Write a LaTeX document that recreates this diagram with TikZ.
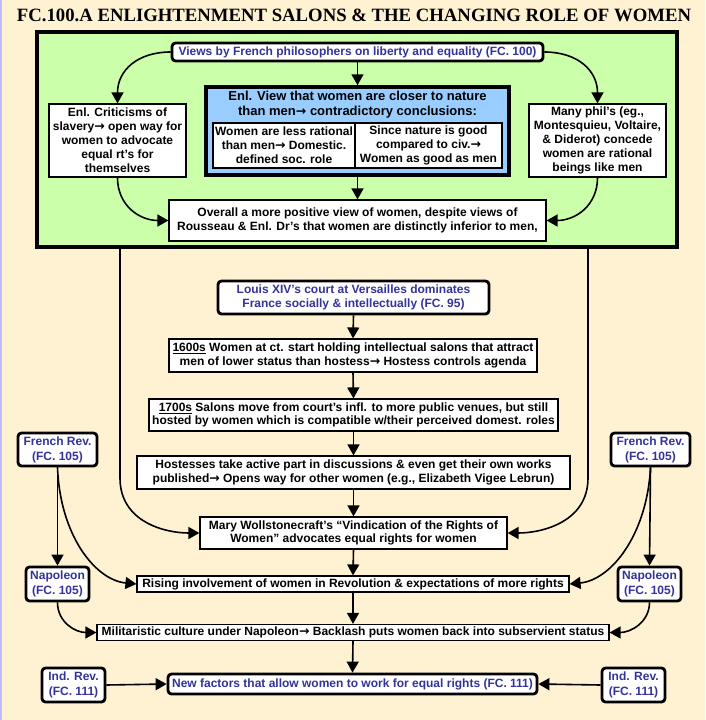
\documentclass[tikz,border=0pt]{standalone}
\usepackage{graphicx}
\usepackage{fontspec}
\setmainfont{Liberation Sans}
\newfontfamily\serifbf{Liberation Serif}
\newfontfamily\djv{DejaVu Sans}
\usetikzlibrary{arrows.meta}
\newcommand\rarr{{\djv\bfseries\fontsize{12.5}{9}\selectfont →}}
\definecolor{bgcream}{RGB}{255,242,210}
\definecolor{greenbg}{RGB}{204,255,170}
\definecolor{bluebg}{RGB}{153,204,255}
\definecolor{fcblue}{RGB}{51,51,153}
\definecolor{lav}{RGB}{190,190,255}
\tikzset{
  box/.style={draw, fill=white, line width=1.2pt, inner sep=1pt, align=center,
    font=\fontsize{12}{14}\selectfont\bfseries, text=black},
  rbox/.style={box, rounded corners=3.5pt, line width=2.8pt, text=fcblue},
  conn/.style={line width=1.6pt, -{Triangle[length=11pt,width=12pt]}},
  plain/.style={line width=1.6pt}
}
\begin{document}
\begin{tikzpicture}[x=1pt,y=-1pt]
\useasboundingbox (0,0) rectangle (705,720);
\fill[bgcream] (0,0) rectangle (705,720);
\fill[lav] (0,0) rectangle (1.5,720);

\node[inner sep=0pt] (title) at (354,15)
  {\resizebox{674pt}{12.5pt}{\serifbf\bfseries FC.100.A ENLIGHTENMENT SALONS \& THE CHANGING ROLE OF WOMEN}};

% green area
\node[draw, fill=greenbg, line width=4pt, minimum width=640pt, minimum height=215pt, inner sep=0pt] (green) at (357,139.5) {};

\node[rbox, minimum width=371pt, minimum height=18pt, inner sep=0pt] (views) at (357.5,52)
  {Views by French philosophers on liberty and equality (FC. 100)};

\node[draw, fill=bluebg, line width=3.5pt, minimum width=303pt, minimum height=88pt, inner sep=0pt] (enl) at (357.5,131) {};
\node[inner sep=0pt, align=center, font=\fontsize{13}{15}\selectfont\bfseries] (enltitle) at (357.5,104.5)
  {Enl. View that women are closer to nature\\than men\rarr{} contradictory conclusions:};
\node[box, minimum width=142pt, minimum height=45pt, inner sep=0pt] (less) at (284,145.5)
  {Women are less rational\\than men\rarr{} Domestic.\\defined soc. role};
\node[box, minimum width=147pt, minimum height=45pt, inner sep=0pt] (good) at (428.5,145.5)
  {Since nature is good\\compared to civ.\rarr\\Women as good as men};

\node[box, minimum width=137pt, minimum height=73pt, inner sep=0pt] (crit) at (117.5,140.5)
  {Enl. Criticisms of\\slavery\rarr{} open way for\\women to advocate\\equal rt’s for\\themselves};
\node[box, minimum width=137pt, minimum height=73pt, inner sep=0pt] (many) at (597.5,140.5)
  {Many phil’s (eg.,\\Montesquieu, Voltaire,\\\& Diderot) concede\\women are rational\\beings like men};
\node[box, minimum width=377pt, minimum height=41pt] (overall) at (357.5,220.5)
  {Overall a more positive view of women, despite views of\\Rousseau \& Enl. Dr’s that women are distinctly inferior to men,};

\draw[conn] (views.west) .. controls (138,52) and (117.5,70) .. (crit.north);
\draw[conn] (views.east) .. controls (577,52) and (597.5,70) .. (many.north);
\draw[conn] (views.south) -- (enl.north);
\draw[conn] (enl.south) -- (overall.north);
\draw[conn] (crit.south) .. controls (117.5,206) and (140,220.5) .. (overall.west);
\draw[conn] (many.south) .. controls (597.5,206) and (575,220.5) .. (overall.east);

% lower chain
\node[rbox, font=\fontsize{12}{14}\selectfont\bfseries, minimum width=271pt, minimum height=33pt] (louis) at (353.5,297.5)
  {Louis XIV’s court at Versailles dominates\\France socially \& intellectually (FC. 95)};
\node[box, font=\fontsize{12}{13.5}\selectfont\bfseries, minimum width=368pt, minimum height=33pt] (s1600) at (353,355.5)
  {\underline{1600s} Women at ct. start holding intellectual salons that attract\\men of lower status than hostess\rarr{} Hostess controls agenda};
\node[box, font=\fontsize{12}{13.5}\selectfont\bfseries, minimum width=409pt, minimum height=32pt] (s1700) at (353.5,415)
  {\underline{1700s} Salons move from court’s infl. to more public venues, but still\\hosted by women which is compatible w/their perceived domest. roles};
\node[box, font=\fontsize{12}{13.5}\selectfont\bfseries, minimum width=433pt, minimum height=33pt] (host) at (353.5,472.5)
  {Hostesses take active part in discussions \& even get their own works\\published\rarr{} Opens way for other women (e.g., Elizabeth Vigee Lebrun)};
\node[box, font=\fontsize{12}{13.5}\selectfont\bfseries, minimum width=307pt, minimum height=32pt] (mary) at (353.5,533)
  {Mary Wollstonecraft’s “Vindication of the Rights of\\Women” advocates equal rights for women};
\node[box, minimum width=432pt, minimum height=16pt, inner sep=0pt] (rising) at (353,584)
  {Rising involvement of women in Revolution \& expectations of more rights};
\node[box, minimum width=512pt, minimum height=16pt, inner sep=0pt] (milit) at (353,632.5)
  {Militaristic culture under Napoleon\rarr{} Backlash puts women back into subservient status};
\node[rbox, minimum width=369pt, minimum height=20pt, inner sep=0pt] (newf) at (352.5,684)
  {New factors that allow women to work for equal rights (FC. 111)};

\node[rbox, font=\fontsize{12}{15}\selectfont\bfseries, minimum width=79pt, minimum height=33pt] (frL) at (57.5,449.5) {French Rev.\\(FC. 105)};
\node[rbox, font=\fontsize{12}{15}\selectfont\bfseries, minimum width=79pt, minimum height=33pt] (frR) at (650.5,449.5) {French Rev.\\(FC. 105)};
\node[rbox, font=\fontsize{12}{15}\selectfont\bfseries, minimum width=63pt, minimum height=34pt] (napL) at (57.5,584) {Napoleon\\(FC. 105)};
\node[rbox, font=\fontsize{12}{15}\selectfont\bfseries, minimum width=63pt, minimum height=34pt] (napR) at (649.5,584) {Napoleon\\(FC. 105)};
\node[rbox, font=\fontsize{12}{15}\selectfont\bfseries, minimum width=63pt, minimum height=34pt] (indL) at (73.5,685) {Ind. Rev.\\(FC. 111)};
\node[rbox, font=\fontsize{12}{15}\selectfont\bfseries, minimum width=63pt, minimum height=34pt] (indR) at (633.5,685) {Ind. Rev.\\(FC. 111)};

\draw[conn] (louis.south) -- (s1600.north);
\draw[conn] (s1600.south) -- (s1700.north);
\draw[conn] (s1700.south) -- (host.north);
\draw[conn] (host.south) -- (mary.north);
\draw[conn] (mary.south) -- (rising.north);
\draw[conn] (rising.south) -- (milit.north);
\draw[conn] (milit.south) -- (newf.north);

\coordinate (gl) at (120,247);
\coordinate (gr) at (588,247);
\draw[conn] (gl) -- (120,478) .. controls (120,522) and (165,533) .. (mary.west);
\draw[conn] (gr) -- (588,478) .. controls (588,522) and (542,533) .. (mary.east);

\draw[conn] (frL.south) -- (napL.north);
\draw[conn] (frR.south) -- (napR.north);
\draw[conn] (frL.south) .. controls (60,535) and (95,580) .. (rising.west);
\draw[conn] (frR.south) .. controls (647,535) and (611,580) .. (rising.east);
\draw[conn] (napL.south) .. controls (57.5,622) and (75,632.5) .. (milit.west);
\draw[conn] (napR.south) .. controls (649.5,622) and (631,632.5) .. (milit.east);
\draw[conn] (indL.east) -- (newf.west);
\draw[conn] (indR.west) -- (newf.east);
\end{tikzpicture}
\end{document}
